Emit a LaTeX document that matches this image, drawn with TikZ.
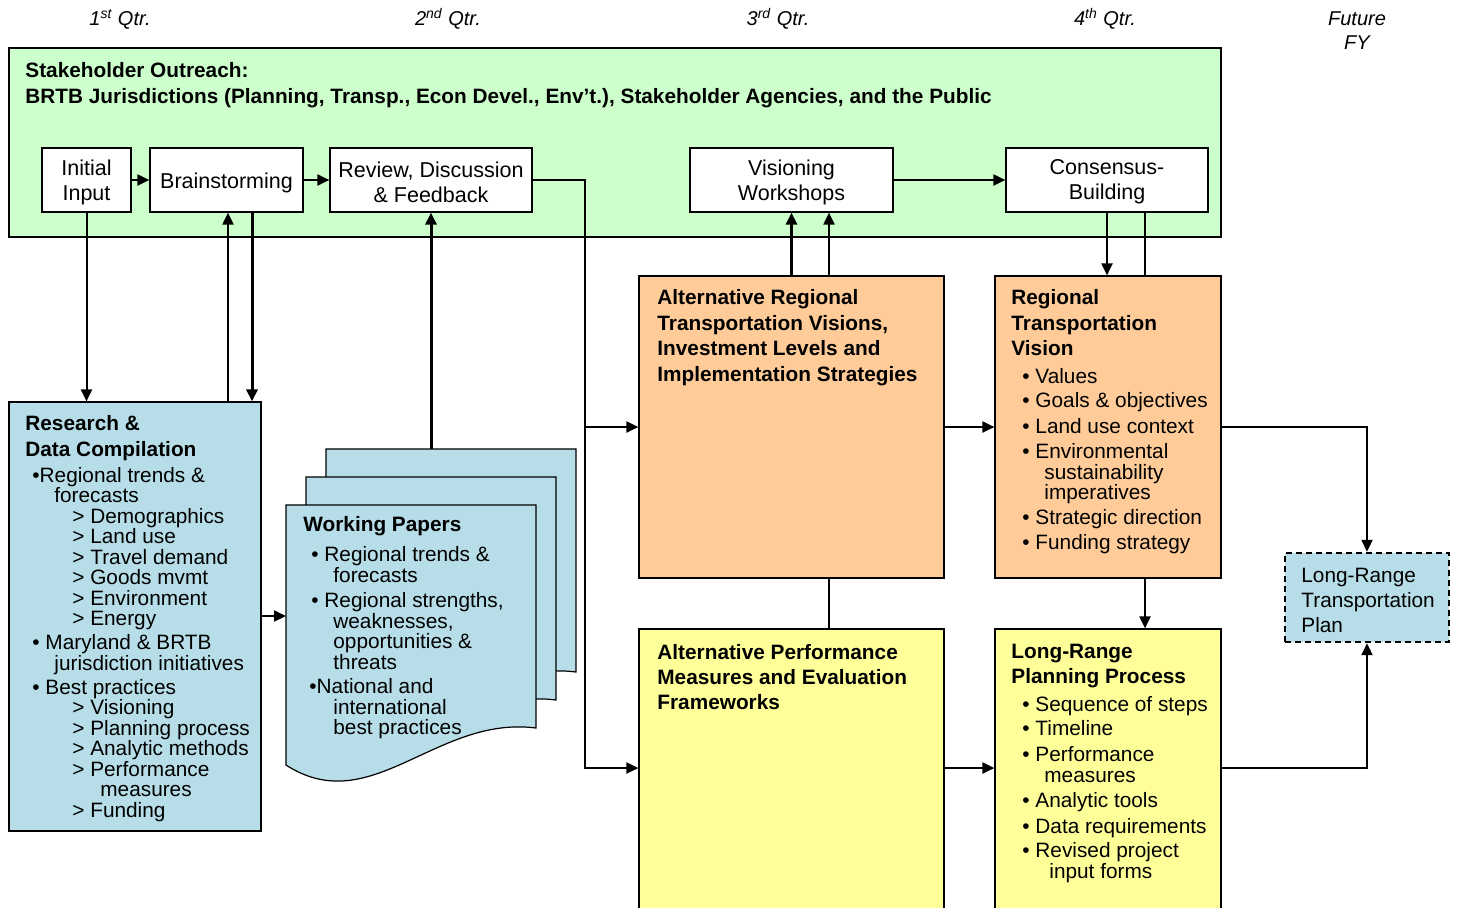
\documentclass[tikz,border=0pt]{standalone}
\usepackage{fontspec}
\setmainfont{Liberation Sans}
\usetikzlibrary{arrows.meta,fit}
\definecolor{gr}{RGB}{204,255,204}
\definecolor{orng}{RGB}{255,204,153}
\definecolor{yel}{RGB}{255,255,153}
\definecolor{blu}{RGB}{183,222,232}
\begin{document}
\begin{tikzpicture}[x=0.5pt,y=-0.5pt,
 box/.style={draw, line width=0.6pt, inner sep=0pt},
 sbox/.style={box, fill=white},
 slab/.style={align=center, inner sep=0pt, font=\fontsize{10.75}{12.5}\selectfont},
 txt/.style={anchor=north west, inner sep=0pt, align=left, font=\fontsize{10.4}{10.25}\selectfont},
 ln/.style={line width=1pt},
 arr/.style={ln, -{Triangle[length=6pt,width=5.5pt]}},
 tarr/.style={arr, line width=1.5pt},
 qtr/.style={font=\fontsize{10}{12}\selectfont\itshape, inner sep=0pt},
 docst/.style={draw, line width=0.6pt, fill=blu}]
\useasboundingbox (0,0) rectangle (1460,907);
\clip (0,0) rectangle (1460,907);

% quarter labels
\node[qtr] (q1) at (120,19) {1\textsuperscript{st} Qtr.};
\node[qtr] (q2) at (448,19) {2\textsuperscript{nd} Qtr.};
\node[qtr] (q3) at (778,19) {3\textsuperscript{rd} Qtr.};
\node[qtr] (q4) at (1105,19) {4\textsuperscript{th} Qtr.};
\node[qtr, align=center] (fut) at (1357,31) {Future\\FY};

% stakeholder outreach
\node[box, fill=gr, fit={(9,48) (1221,237)}] (green) {};
\node[txt] (greent) at (25,62) {\textbf{Stakeholder Outreach:}\\[2.75pt]\textbf{BRTB Jurisdictions (Planning, Transp., Econ Devel., Env't.), Stakeholder Agencies, and the Public}};
\node[sbox, fit={(42,148) (131,212)}] (init) {};
\node[slab] (initt) at ([yshift=-1pt]init.center) {Initial\\Input};
\node[sbox, fit={(150,148) (303,212)}] (brain) {};
\node[slab] (braint) at ([yshift=-1.4pt]brain.center) {Brainstorming};
\node[sbox, fit={(330,148) (532,212)}] (rev) {};
\node[slab] (revt) at ([yshift=-1pt]rev.center) {Review, Discussion\\\& Feedback};
\node[sbox, fit={(690,148) (893,212)}] (vis) {};
\node[slab] (vist) at ([yshift=-1pt]vis.center) {Visioning\\Workshops};
\node[sbox, fit={(1006,148) (1208,212)}] (cons) {};
\node[slab] (const) at ([yshift=-1pt]cons.center) {Consensus-\\Building};

% research
\node[box, fill=blu, fit={(9,402) (261,831)}] (research) {};
\node[txt] (researcht) at (25,415) {\textbf{Research \&}\\[2.75pt]
\textbf{Data Compilation}\\[2.75pt]
\hspace*{3.5pt}\textbullet Regional trends \&\\
\hspace*{14.5pt}forecasts\\
\hspace*{23.5pt}\textgreater{} Demographics\\
\hspace*{23.5pt}\textgreater{} Land use\\
\hspace*{23.5pt}\textgreater{} Travel demand\\
\hspace*{23.5pt}\textgreater{} Goods mvmt\\
\hspace*{23.5pt}\textgreater{} Environment\\
\hspace*{23.5pt}\textgreater{} Energy\\[1.75pt]
\hspace*{3.5pt}\textbullet\ Maryland \& BRTB\\
\hspace*{14.5pt}jurisdiction initiatives\\[1.75pt]
\hspace*{3.5pt}\textbullet\ Best practices\\
\hspace*{23.5pt}\textgreater{} Visioning\\
\hspace*{23.5pt}\textgreater{} Planning process\\
\hspace*{23.5pt}\textgreater{} Analytic methods\\
\hspace*{23.5pt}\textgreater{} Performance\\
\hspace*{37.5pt}measures\\
\hspace*{23.5pt}\textgreater{} Funding};

% working papers
\draw[docst, shift={(40,-56)}] (286,505) -- (536,505) -- (536,728) .. controls (436,715) and (371,820) .. (286,765) -- cycle;
\draw[docst, shift={(20,-28)}] (286,505) -- (536,505) -- (536,728) .. controls (436,715) and (371,820) .. (286,765) -- cycle;
\draw[docst] (286,505) -- (536,505) -- (536,728) .. controls (436,715) and (371,820) .. (286,765) -- cycle;
\coordinate (wpl) at (286,616);
\coordinate (wpt) at (431,449);
\node[txt] (wpt1) at (303,516) {\textbf{Working Papers}\\[4.75pt]
\hspace*{4pt}\textbullet\ Regional trends \&\\[0.25pt]
\hspace*{15pt}forecasts\\[2.25pt]
\hspace*{4pt}\textbullet\ Regional strengths,\\[0.25pt]
\hspace*{15pt}weaknesses,\\
\hspace*{15pt}opportunities \&\\
\hspace*{15pt}threats\\[1.75pt]
\hspace*{3pt}\textbullet National and\\[0.25pt]
\hspace*{15pt}international\\
\hspace*{15pt}best practices};

% 3rd quarter boxes
\node[box, fill=orng, fit={(639,276) (944,578)}] (altreg) {};
\node[txt] (altregt) at (657,289) {\textbf{Alternative Regional}\\[2.75pt]\textbf{Transportation Visions,}\\[2.25pt]\textbf{Investment Levels and}\\[2.75pt]\textbf{Implementation Strategies}};
\node[box, fill=yel, fit={(639,629) (944,915)}] (altperf) {};
\node[txt] (altperft) at (657,644) {\textbf{Alternative Performance}\\[2.25pt]\textbf{Measures and Evaluation}\\[2.25pt]\textbf{Frameworks}};

% 4th quarter boxes
\node[box, fill=orng, fit={(995,276) (1221,578)}] (rtv) {};
\node[txt] (rtvt) at (1011,289) {\textbf{Regional}\\[2.75pt]\textbf{Transportation}\\[2.25pt]\textbf{Vision}\\[3.75pt]
\hspace*{5.5pt}\textbullet\ Values\\[1.75pt]
\hspace*{5.5pt}\textbullet\ Goals \& objectives\\[2.75pt]
\hspace*{5.5pt}\textbullet\ Land use context\\[2.25pt]
\hspace*{5.5pt}\textbullet\ Environmental\\[0.25pt]
\hspace*{16.5pt}sustainability\\
\hspace*{16.5pt}imperatives\\[2.25pt]
\hspace*{5.5pt}\textbullet\ Strategic direction\\[2.25pt]
\hspace*{5.5pt}\textbullet\ Funding strategy};
\node[box, fill=yel, fit={(995,629) (1221,915)}] (lrpp) {};
\node[txt] (lrppt) at (1011,644) {\textbf{Long-Range}\\[2.25pt]\textbf{Planning Process}\\[3.75pt]
\hspace*{5.5pt}\textbullet\ Sequence of steps\\[1.75pt]
\hspace*{5.5pt}\textbullet\ Timeline\\[2.75pt]
\hspace*{5.5pt}\textbullet\ Performance\\[0.25pt]
\hspace*{16.5pt}measures\\[2.25pt]
\hspace*{5.5pt}\textbullet\ Analytic tools\\[2.75pt]
\hspace*{5.5pt}\textbullet\ Data requirements\\[1.75pt]
\hspace*{5.5pt}\textbullet\ Revised project\\[0.25pt]
\hspace*{19pt}input forms};

% long-range transportation plan
\node[box, fill=blu, dash pattern=on 3pt off 2pt, line width=1.2pt, fit={(1285,553) (1449,642)}] (lrtp) {};
\node[txt] (lrtpt) at (1301,568) {Long-Range\\[2.25pt]Transportation\\[2.25pt]Plan};

% connectors
\coordinate (a768) at (0,768);
\draw[arr] (init.east) -- (brain.west);
\draw[arr] (brain.east) -- (rev.west);
\draw[arr] (vis.east) -- (cons.west);
\draw[arr] (init.south) -- (init.south |- research.north);
\draw[arr] (228,0 |- research.north) -- (228,0 |- brain.south);
\draw[tarr] (252,0 |- brain.south) -- (252,0 |- research.north);
\draw[tarr] (wpt) -- (rev.south);
\draw[arr] (research.east |- wpl) -- (wpl);
\coordinate (j1) at (585,427);
\draw[ln] (rev.east) -| (j1);
\draw[arr] (j1) -- (altreg.west);
\draw[arr] (j1) |- (altperf.west |- a768);
\draw[tarr] (altreg.north) -- (vis.south);
\draw[arr] (829,0 |- altreg.north) -- (829,0 |- vis.south);
\draw[ln] (829,0 |- altreg.south) -- (829,0 |- altperf.north);
\draw[arr] (cons.south) -- (cons.south |- rtv.north);
\draw[ln] (1145,0 |- cons.south) -- (1145,0 |- rtv.north);
\draw[arr] (1145,0 |- rtv.south) -- (1145,0 |- lrpp.north);
\draw[arr] (altreg.east) -- (rtv.west);
\draw[arr] (altperf.east |- a768) -- (lrpp.west |- a768);
\draw[arr] (rtv.east) -| (lrtp.north);
\draw[arr] (lrpp.east |- a768) -| (lrtp.south);
\end{tikzpicture}
\end{document}
